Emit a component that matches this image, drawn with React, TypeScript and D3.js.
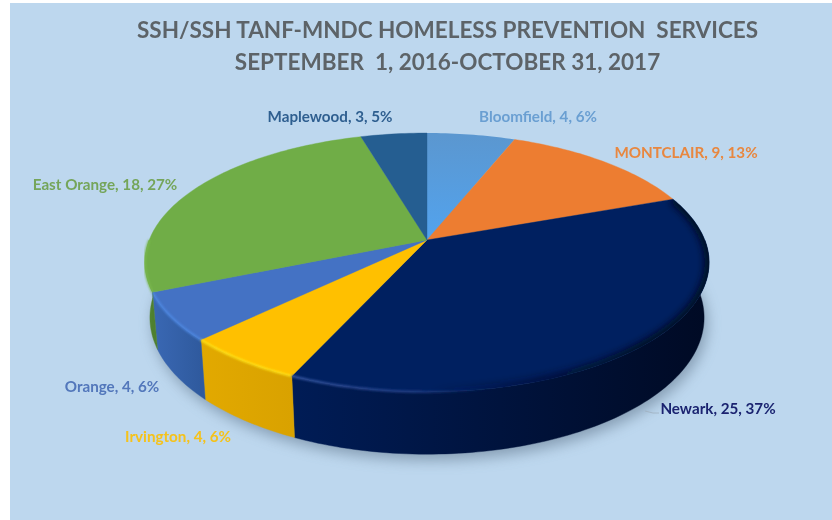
import React from 'react';
import * as d3 from 'd3';

const W = 832;
const H = 520;

// chart data, clockwise from 12 o'clock
const towns = ['Bloomfield', 'MONTCLAIR', 'Newark', 'Irvington', 'Orange', 'East Orange', 'Maplewood'];
const counts = [4, 9, 25, 4, 4, 18, 3];
const percents = [6, 13, 37, 6, 6, 27, 5];

const topColors = ['#5b9bd5', '#ed7d31', '#002060', '#ffc000', '#4472c4', '#70ad47', '#255e91'];
const labelColors = ['#6a9fd2', '#e8873f', '#1a2470', '#f5c21a', '#5277bb', '#74a55a', '#2f5f90'];
const wallStops = [
  ['#4a80b0', '#4a80b0'],
  ['#c2621f', '#c2621f'],
  ['#001c56', '#000a24'],
  ['#e2a900', '#d9a200'],
  ['#3a68b4', '#2f5a9e'],
  ['#5a8f38', '#4e8030'],
  ['#1e4d78', '#1e4d78'],
];
const rimColors = ['#6aaee8', '#f59050', '#2c4d98', '#ffe41a', '#4f8be6', '#7cba50', '#2c6aa0'];

// label anchors (text centre, baseline)
const labelX = [538, 686, 718, 178, 112, 105, 330];
const labelY = [122, 158, 414, 442, 392, 190, 122];

const titleLines = ['SSH/SSH TANF-MNDC HOMELESS PREVENTION  SERVICES', 'SEPTEMBER  1, 2016-OCTOBER 31, 2017'];

// perspective projection of the disc, fitted to the picture
const cx = 427;
const cy = 240;
const camera = 5.76;
const fx = 1600;
const fy = 723;
const sink = 0.1;
const drop = 318;

function project(theta: number, lower: boolean): [number, number] {
  const x = Math.sin(theta);
  const z = Math.cos(theta);
  const depth = camera + z + (lower ? sink : 0);
  return [cx + (fx * x) / depth, cy + (-fy * z + (lower ? drop : 0)) / depth];
}

function sampleAngles(a: number, b: number): number[] {
  const n = Math.max(2, Math.ceil((b - a) / 0.02));
  return d3.range(n + 1).map(i => a + ((b - a) * i) / n);
}

const line = d3.line<[number, number]>().curve(d3.curveLinear);

const arcs = d3.pie<number>().sort(null).value(d => d)(counts);

const wallMin = Math.PI / 2;
const wallMax = (Math.PI * 3) / 2;

const slices = arcs.map((a, i) => {
  const top = sampleAngles(a.startAngle, a.endAngle).map(t => project(t, false));
  const from = Math.max(a.startAngle, wallMin);
  const to = Math.min(a.endAngle, wallMax);
  const hasWall = to > from;
  const wallAngles = hasWall ? sampleAngles(from, to) : [];
  const wallTop = wallAngles.map(t => project(t, false));
  const wallBottom = wallAngles.map(t => project(t, true)).reverse();
  return {
    i,
    topPath: line([[cx, cy], ...top])! + 'Z',
    hasWall,
    wallPath: hasWall ? line([...wallTop, ...wallBottom])! + 'Z' : '',
    rimPath: hasWall ? line(wallTop)! : '',
    x0: hasWall ? Math.min(...wallTop.map(p => p[0])) : 0,
    x1: hasWall ? Math.max(...wallTop.map(p => p[0])) : 0,
  };
});

const discLower = line(sampleAngles(0, Math.PI * 2).map(t => project(t, true)))! + 'Z';
// right hand edge of the big slice fades into the wall
const darkEdge = line(sampleAngles(arcs[2].startAngle, 3.3).map(t => project(t, false)))!;

export default function App() {
  return (
    <svg width={W} height={H} style={{ position: 'absolute', left: 0, top: 0, background: '#fff' }}>
      <defs>
        <filter id="shadow" x="-10%" y="-20%" width="120%" height="140%">
          <feGaussianBlur stdDeviation="7" />
        </filter>
        <filter id="rim" x="-5%" y="-20%" width="110%" height="140%">
          <feGaussianBlur stdDeviation="0.9" />
        </filter>
        <filter id="edge" x="-10%" y="-20%" width="120%" height="140%">
          <feGaussianBlur stdDeviation="3.5" />
        </filter>
        <filter id="soft">
          <feGaussianBlur stdDeviation="0.35" />
        </filter>
        <clipPath id="newarkClip">
          <path d={slices[2].topPath} />
        </clipPath>
        {slices.filter(s => s.hasWall).map(s => (
          <linearGradient key={s.i} id={`wall${s.i}`} gradientUnits="userSpaceOnUse" x1={s.x0} x2={s.x1} y1={0} y2={0}>
            <stop offset="0" stopColor={wallStops[s.i][0]} />
            <stop offset="1" stopColor={wallStops[s.i][1]} />
          </linearGradient>
        ))}
        <linearGradient id="newarkRim" gradientUnits="userSpaceOnUse" x1={292} x2={500} y1={0} y2={0}>
          <stop offset="0" stopColor="#3a5aa8" />
          <stop offset="0.6" stopColor="#243f88" />
          <stop offset="1" stopColor="#0a2560" stopOpacity={0} />
        </linearGradient>
        <linearGradient id="edgeFade" gradientUnits="userSpaceOnUse" x1={430} x2={640} y1={0} y2={0}>
          <stop offset="0" stopColor="#000a24" stopOpacity={0} />
          <stop offset="1" stopColor="#000a24" stopOpacity={1} />
        </linearGradient>
        <linearGradient id="bloomfieldTop" gradientUnits="userSpaceOnUse" x1={0} x2={0} y1={135} y2={240}>
          <stop offset="0" stopColor="#5b97d0" />
          <stop offset="1" stopColor="#52a3ee" />
        </linearGradient>
      </defs>

      <rect x={10} y={3} width={W - 10} height={H - 3} fill="#bdd7ee" />

      <path d={discLower} transform="translate(3,6)" fill="#5a6f85" opacity={0.55} filter="url(#shadow)" />

      {slices.filter(s => s.hasWall).map(s => (
        <path key={s.i} d={s.wallPath} fill={`url(#wall${s.i})`} stroke={`url(#wall${s.i})`} strokeWidth={0.4} />
      ))}

      {slices.map(s => (
        <path
          key={s.i}
          d={s.topPath}
          fill={s.i === 0 ? 'url(#bloomfieldTop)' : topColors[s.i]}
          stroke={s.i === 0 ? 'none' : topColors[s.i]}
          strokeWidth={0.4}
        />
      ))}

      <g clipPath="url(#newarkClip)">
        <path d={darkEdge} fill="none" stroke="url(#edgeFade)" strokeWidth={9} filter="url(#edge)" />
      </g>

      {slices.filter(s => s.hasWall && s.i !== 2).map(s => (
        <path key={s.i} d={s.rimPath} fill="none" stroke={rimColors[s.i]} strokeWidth={2} filter="url(#rim)" />
      ))}
      <path d={slices[2].rimPath} fill="none" stroke="url(#newarkRim)" strokeWidth={2} filter="url(#rim)" />

      <g filter="url(#soft)" fontFamily="Lato, 'Open Sans', sans-serif" textAnchor="middle">
        {titleLines.map((t, i) => (
          <text key={i} x={447.5} y={38 + i * 32} fontSize={22.5} fontWeight={700} fill="#5d6468" style={{ whiteSpace: 'pre' }}>
            {t}
          </text>
        ))}
        {towns.map((t, i) => (
          <text key={t} x={labelX[i]} y={labelY[i]} fontSize={15.2} fontWeight={700} fill={labelColors[i]}>
            {`${t}, ${counts[i]}, ${percents[i]}%`}
          </text>
        ))}
      </g>
      <path d={d3.line()([[645, 411], [653, 413], [659, 413]])!} fill="none" stroke="#9fb0bf" strokeWidth={0.8} />
    </svg>
  );
}
